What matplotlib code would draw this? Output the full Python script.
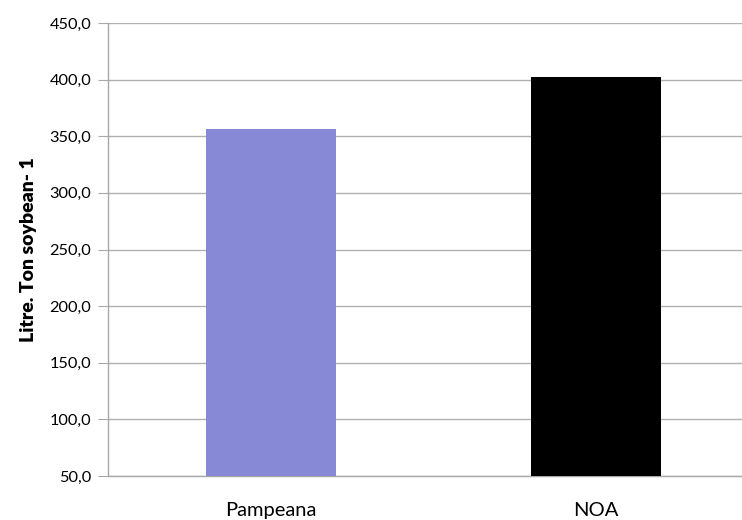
import matplotlib
matplotlib.use("Agg")
import matplotlib.pyplot as plt
from matplotlib.ticker import FuncFormatter

categories = ["Pampeana", "NOA"]
values = [356.0, 402.0]
colors = ["#8789d6", "#000000"]
yticks = [50, 100, 150, 200, 250, 300, 350, 400, 450]

plt.rcParams['font.family'] = ['Lato', 'DejaVu Sans']

fig = plt.figure(figsize=(7.42, 5.2), dpi=100)
ax = fig.add_axes([108/742, 1 - 476/520, 651/742, (476-23)/520])

x = list(range(len(categories)))
ax.bar(x, values, width=0.4, color=colors, zorder=3)
ax.set_xlim(-0.5, 1.5)
ax.set_ylim(50, 450)
ax.set_yticks(yticks)
ax.yaxis.set_major_formatter(FuncFormatter(lambda v, p: f"{v:.1f}".replace(".", ",")))
ax.set_xticks(x)
ax.set_xticklabels(categories, fontsize=14.5)
ax.grid(axis='y', color='#b0b0b0', linewidth=1, zorder=0)
for s in ['top', 'right']:
    ax.spines[s].set_visible(False)
for s in ['left', 'bottom']:
    ax.spines[s].set_color('#a8a8a8')
    ax.spines[s].set_linewidth(1)
ax.tick_params(axis='y', length=7, color='#a8a8a8', labelsize=11.8, pad=5)
ax.tick_params(axis='x', length=0, pad=19)
ax.set_ylabel("Litre. Ton soybean- 1", fontsize=14, fontweight='heavy', labelpad=9)

fig.savefig("out.png", dpi=100)
